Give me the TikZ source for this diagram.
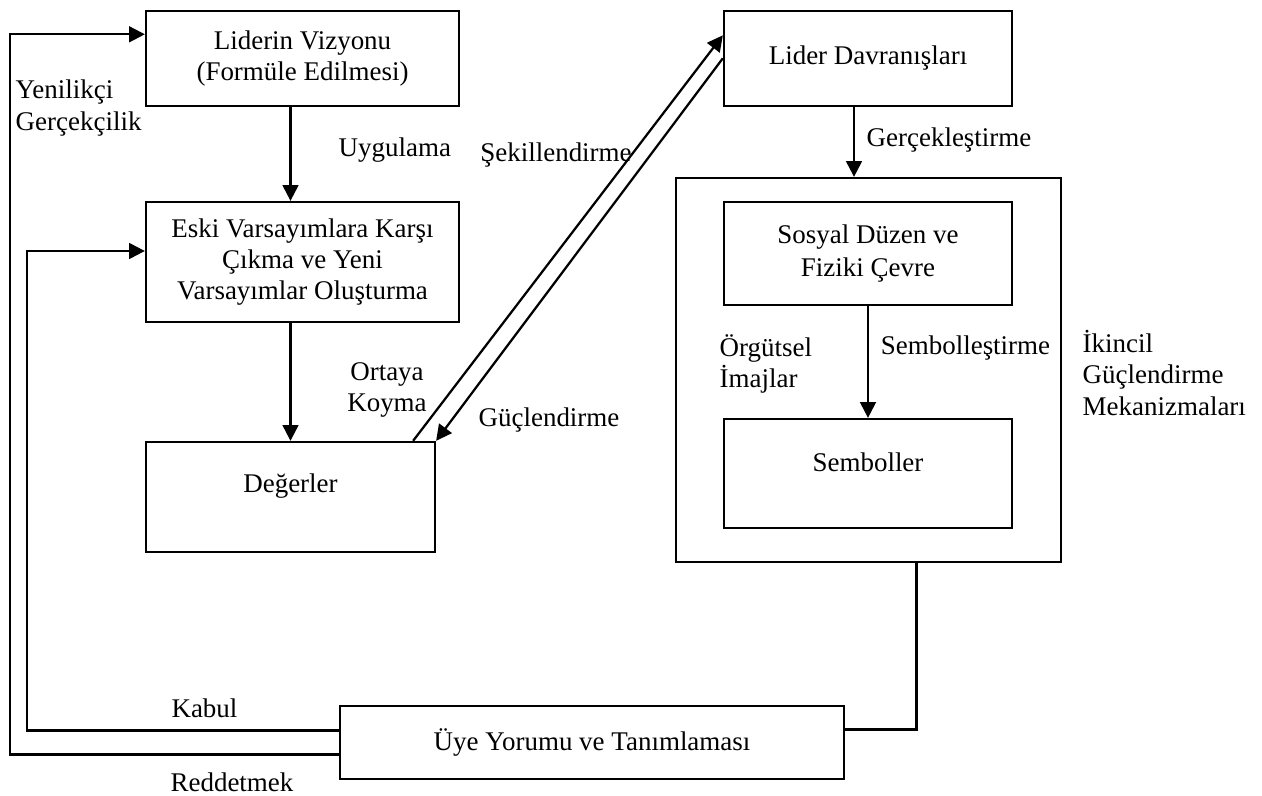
\documentclass[tikz,border=0pt]{standalone}
\usepackage{fontspec}
\setmainfont{Liberation Serif}
\usetikzlibrary{arrows.meta,calc}
\begin{document}
\begin{tikzpicture}[x=0.445pt,y=-0.445pt,
  every node/.style={font=\fontsize{12}{13.9}\selectfont},
  box/.style={draw, line width=1pt, align=center, inner sep=0pt},
  txt/.style={align=center, inner sep=1pt},
  ltxt/.style={align=left, inner sep=1pt, anchor=west},
  conn/.style={line width=1pt},
  arr/.style={line width=1pt, -{Triangle[length=7pt,width=7pt]}}]
\path[use as bounding box] (0,0) rectangle (1262,796);

% boxes
\node[box, minimum width=139.3pt, minimum height=42.4pt] (liderin) at (302.5,58.3) {Liderin Vizyonu\\(Formüle Edilmesi)};
\node[box, minimum width=139.3pt, minimum height=53.4pt] (eski) at (302.5,262) {Eski Varsayımlara Karşı\\Çıkma ve Yeni\\Varsayımlar Oluşturma};
\node[box, minimum width=128.6pt, minimum height=49.0pt, label={[yshift=4.9pt]center:Değerler}] (degerler) at (290.5,497) {};
\node[box, minimum width=128.2pt, minimum height=42.4pt] (lider) at (868,58.3) {Lider Davranışları};
\node[box, minimum width=171.3pt, minimum height=170.9pt] (big) at (868.5,370) {};
\node[box, minimum width=128.2pt, minimum height=45.8pt] (sosyal) at (868,253.5) {Sosyal Düzen ve\\[1pt]Fiziki Çevre};
\node[box, minimum width=128.2pt, minimum height=48.5pt, label={[yshift=4.9pt]center:Semboller}] (semboller) at (868,473.5) {};
\node[box, minimum width=224.3pt, minimum height=32.5pt] (uye) at (592,742.5) {Üye Yorumu ve Tanımlaması};

% labels
\node[ltxt] (yenilikci) at (13,108) {Yenilikçi\\Gerçekçilik};
\node[ltxt] (uygulama) at (336,150) {Uygulama};
\node[txt] (sekil) at (556,155) {Şekillendirme};
\node[txt] (ortaya) at (387,390) {Ortaya\\Koyma};
\node[txt] (guc) at (549,420) {Güçlendirme};
\node[txt] (gercek) at (949,140) {Gerçekleştirme};
\node[ltxt] (orgutsel) at (717,364) {Örgütsel\\İmajlar};
\node[txt] (sembol) at (965.5,348) {Sembolleştirme};
\node[ltxt] (ikincil) at (1080,373) {İkincil\\Güçlendirme\\Mekanizmaları};
\node[txt] (kabul) at (204.5,708) {Kabul};
\node[txt] (reddet) at (232,782) {Reddetmek};

% connectors
\draw[arr] (degerler.north |- liderin.south) -- (degerler.north |- eski.north);
\draw[arr] (degerler.north |- eski.south) -- (degerler.north);
\draw[arr] ($(degerler.north east)+(-23,0)$) -- ($(lider.west)+(0,-23)$);
\draw[arr] (lider.west) -- (degerler.north east);
\draw[arr] ($(lider.south)+(-14,0)$) coordinate (ldA) -- (ldA |- big.north);
\draw[arr] (sosyal.south) -- (semboller.north);
\draw[conn] ($(big.south)+(48,0)$) |- ($(uye.east)+(0,-13)$);
\draw[arr] ($(uye.west)+(0,-12)$) -- ++(-312,0) |- ($(eski.west)+(0,-11)$);
\draw[arr] ($(uye.west)+(0,12)$) -- ++(-329,0) |- ($(liderin.west)+(0,-24)$);
\end{tikzpicture}
\end{document}
